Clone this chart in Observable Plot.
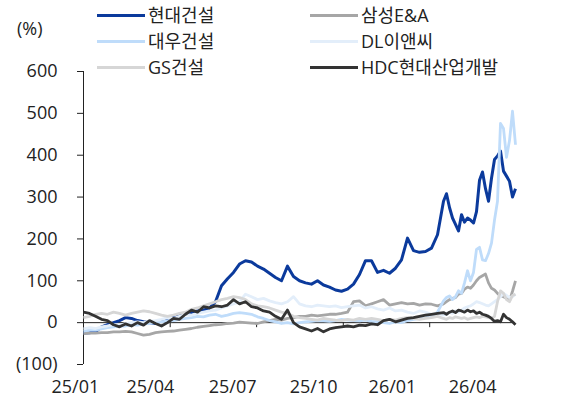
<!DOCTYPE html>
<html><head><meta charset="utf-8">
<script src="https://cdn.jsdelivr.net/npm/d3@7"></script>
<script src="https://cdn.jsdelivr.net/npm/@observablehq/plot@0.6"></script>
<style>
body{margin:0;background:#fff;font-family:"Open Sans","Noto Sans CJK KR",sans-serif;}
#wrap{position:relative;width:571px;height:403px;overflow:hidden;}
#chart{position:absolute;left:0;top:0;}
.lg{position:absolute;display:flex;align-items:center;height:22px;font-size:18px;color:#222;line-height:1;white-space:nowrap;}
.lg .sw{display:inline-block;width:48px;height:3px;margin-right:3px;}
#unit{position:absolute;left:17px;top:19px;font-size:18px;color:#222;line-height:1;}
</style></head><body>
<div id="wrap"><div id="chart"></div><div id="unit">(%)</div></div>
<script>
// trading-day index (x)
const t = [0,2,4,6,8,10,12,14,16,18,20,22,24,26,28,30,32,34,36,38,40,42,44,46,48,50,52,54,56,58,60,62,64,66,68,70,72,74,76,78,80,82,84,86,88,90,92,94,96,98,100,102,104,106,108,110,112,114,116,118,120,
121,122,123,124,125,126,127,128,129,130,131,132,133,134,135,136,137,138,139,140,141,142,143,144];

const seriesNames = ["현대건설","삼성E&A","대우건설","DL이앤씨","GS건설","HDC현대산업개발"];
const seriesColors = ["#0b3a9c","#a6a6a6","#bfdcfa","#e3eefa","#d6d6d6","#333333"];

const hyundai = [-25,-24,-22,-10,-5,0,5,12,10,5,
2,0,-2,5,10,15,20,22,24,28,
30,35,50,88,105,120,140,148,145,135,
128,118,108,100,135,110,100,95,92,100,
90,85,78,75,80,92,115,148,148,120,
125,118,130,150,202,172,168,170,178,210,
290,
308,275,250,235,219,258,240,250,245,238,
265,340,360,320,290,345,390,398,410,362,
350,338,300,320];

const samsung = [-26,-25,-25,-24,-24,-22,-22,-21,-22,-26,
-30,-28,-24,-22,-21,-20,-18,-16,-14,-11,
-9,-7,-5,-4,-2,-1,1,0,-1,-2,
2,5,8,6,10,12,15,15,18,16,
18,20,20,22,25,50,52,40,45,50,
55,42,45,48,45,46,42,45,44,40,
45,
50,55,58,60,68,70,80,85,82,90,
100,108,112,116,95,82,78,70,64,62,
58,52,75,100];

const daewoo = [-20,-18,-18,-15,-12,-10,-8,-8,-5,-6,
-3,-2,0,2,4,5,8,10,12,15,
14,18,20,15,18,22,24,22,20,14,
10,5,2,-2,0,-3,0,2,3,5,
4,3,5,8,6,5,4,6,3,2,
0,-2,2,0,5,8,10,12,15,25,
52,
60,64,55,62,76,70,95,124,100,120,
175,180,150,148,165,190,245,290,476,464,
395,435,505,425];

const dl = [-15,-12,-14,-10,-8,-5,-6,-2,0,2,
0,3,5,8,12,10,15,20,18,22,
25,28,30,35,40,45,50,68,62,55,
58,52,48,45,50,62,45,40,38,42,
40,38,40,36,38,40,42,35,38,33,
30,35,28,30,25,22,28,25,20,22,
18,
20,25,22,28,25,30,35,38,40,45,
50,48,45,42,40,45,50,55,62,70,
65,60,62,68];

const gs = [12,15,20,22,20,25,22,18,22,25,
28,26,22,18,15,18,22,25,32,35,
40,45,50,55,58,62,60,55,45,40,
38,35,30,25,22,15,12,10,8,6,
10,8,6,5,8,6,10,8,10,8,
5,8,6,10,12,10,8,10,12,15,
10,
8,12,10,14,12,10,12,8,10,12,
14,12,15,14,12,10,15,50,76,70,
55,50,65,68];

const hdc = [25,22,15,8,5,-5,-10,-3,-8,0,
-6,5,-2,-8,0,10,8,20,30,25,
38,35,40,38,42,55,45,50,38,35,
28,25,15,8,30,0,-10,-15,-20,-14,
-22,-15,-12,-10,-8,-10,-6,-7,-3,-5,
5,8,2,6,10,12,15,18,20,22,
24,
20,25,28,24,30,28,25,30,26,28,
22,25,20,18,15,10,3,5,2,20,
12,8,2,-5];

const seriesValues = [hyundai, samsung, daewoo, dl, gs, hdc];

const xTickLabels = ["25/01","25/04","25/07","25/10","26/01","26/04"];
const xTickLabelPos = [-2.7, 22.3, 49.7, 76.7, 103, 129.7];
const xTickMarkPos = [28.9, 57.7, 86.6, 115.4];
const yTicks = [-100,0,100,200,300,400,500,600];

const lineMarks = seriesValues.map((vals, si) =>
  Plot.line(vals.map((v, i) => ({t: t[i], v})), {
    x: "t", y: "v", stroke: seriesColors[si], strokeWidth: si === 0 ? 3 : 2.8,
    strokeLinejoin: "round", strokeLinecap: "butt"
  })
);

const chart = Plot.plot({
  width: 571, height: 403,
  marginLeft: 83, marginRight: 56, marginTop: 71, marginBottom: 39,
  style: {fontFamily: '"Open Sans","Noto Sans CJK KR",sans-serif', fontSize: "18px", color: "#222", background: "transparent", overflow: "visible"},
  x: {domain: [0, 144], axis: null},
  y: {domain: [-100, 600], ticks: yTicks, tickSize: 6, tickPadding: 20, label: null,
      tickFormat: d => d < 0 ? `(${-d})` : `${d}`},
  marks: [
    Plot.ruleX([0], {y1: -100, y2: 600, stroke: "#222", strokeWidth: 1}),
    Plot.ruleY([0], {stroke: "#222", strokeWidth: 1}),
    Plot.ruleX(xTickMarkPos, {y1: 0, y2: -12, stroke: "#222", strokeWidth: 1}),
    ...lineMarks,
    Plot.text(xTickLabels, {x: xTickLabelPos, frameAnchor: "bottom", dy: 28, fontSize: 18, fill: "#222"})
  ]
});
document.getElementById("chart").appendChild(chart);

// legend (two columns, row-major order)
const legendCols = [97, 310];
const legendRows = [15, 41, 67];
const wrap = document.getElementById("wrap");
seriesNames.forEach((name, i) => {
  const d = document.createElement("div");
  d.className = "lg";
  d.style.left = legendCols[i % 2] + "px";
  d.style.top = (legendRows[Math.floor(i / 2)] - 11) + "px";
  d.innerHTML = `<span class="sw" style="background:${seriesColors[i]}"></span><span>${name}</span>`;
  wrap.appendChild(d);
});
</script>
</body></html>
